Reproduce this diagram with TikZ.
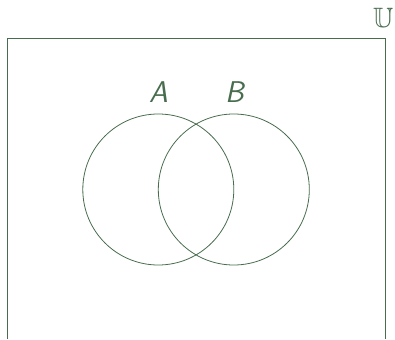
\documentclass[tikz,border=0pt]{standalone}
\usepackage{amsfonts}
\definecolor{vgreen}{RGB}{72,108,78}
\begin{document}
\begin{tikzpicture}[x=1pt,y=1pt,
  setcirc/.style={circle,draw=vgreen,line width=0.8pt,minimum size=151pt,inner sep=0pt},
  setlabel/.style={text=vgreen,font=\fontsize{30}{30}\selectfont\sffamily\itshape,inner sep=0pt,anchor=base},
  univ/.style={draw=vgreen,line width=0.8pt}]
\useasboundingbox (0,0) rectangle (395,-339);
\coordinate (ubl) at (7.5,-339);
\coordinate (utl) at (7.5,-38.5);
\coordinate (utr) at (385.5,-38.5);
\coordinate (ubr) at (385.5,-339);
\draw[univ] (ubl) -- (utl) -- (utr) -- (ubr);
\node[text=vgreen,font=\fontsize{28}{28}\selectfont,inner sep=0pt,anchor=base] (ulabel) at (383.3,-28) {$\mathbb{U}$};
\node[setcirc] (setA) at (158.3,-189.5) {};
\node[setcirc] (setB) at (233.8,-189.5) {};
\node[setlabel] (labA) at (158.5,-103) {A};
\node[setlabel] (labB) at (234.5,-103) {B};
\end{tikzpicture}
\end{document}
